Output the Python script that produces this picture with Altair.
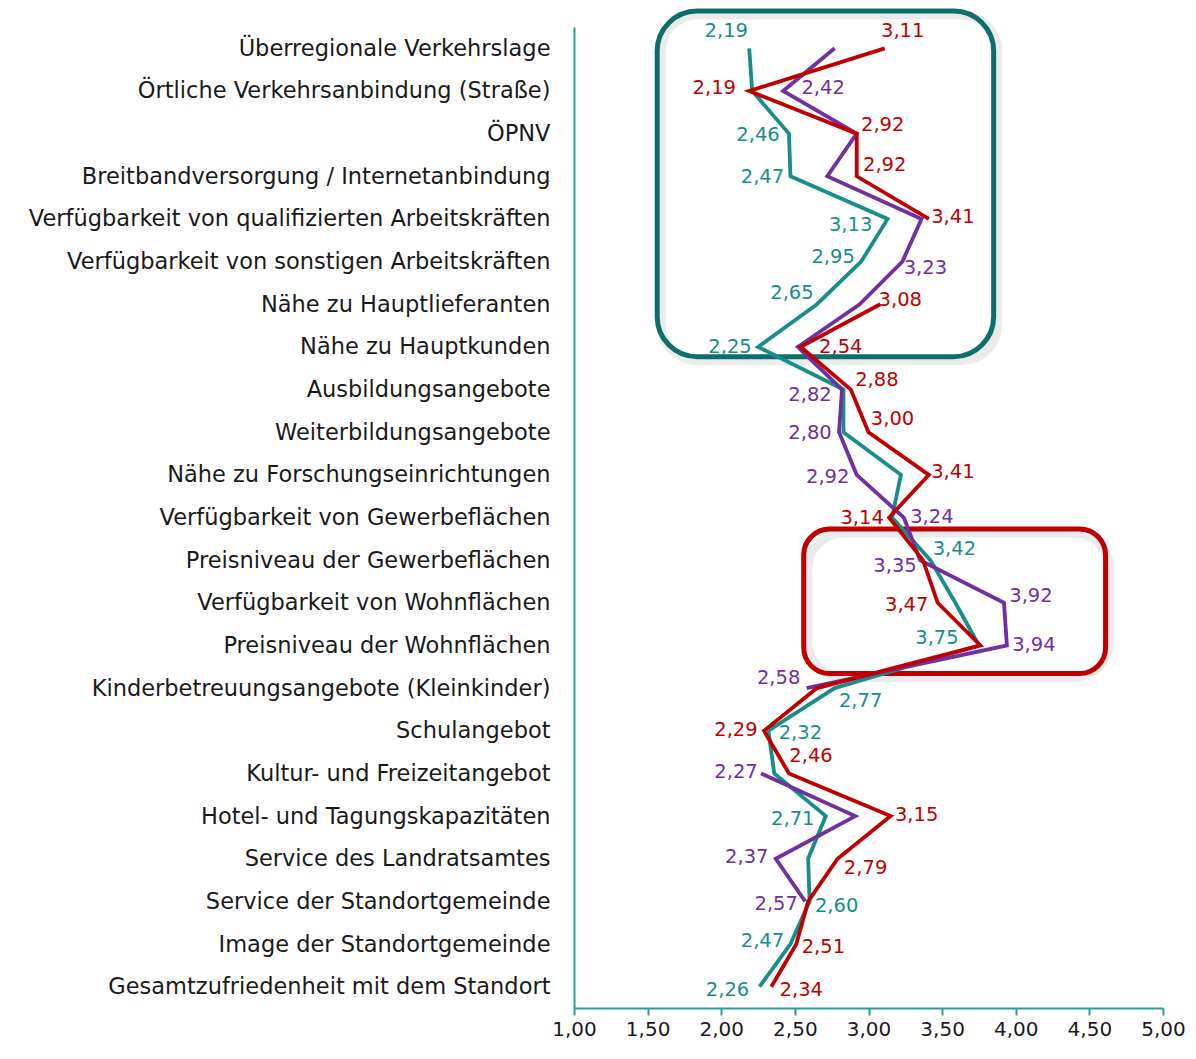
import json
import altair as alt
import pandas as pd

FONT = "DejaVu Sans"

categories = [
    "Überregionale Verkehrslage",
    "Örtliche Verkehrsanbindung (Straße)",
    "ÖPNV",
    "Breitbandversorgung / Internetanbindung",
    "Verfügbarkeit von qualifizierten Arbeitskräften",
    "Verfügbarkeit von sonstigen Arbeitskräften",
    "Nähe zu Hauptlieferanten",
    "Nähe zu Hauptkunden",
    "Ausbildungsangebote",
    "Weiterbildungsangebote",
    "Nähe zu Forschungseinrichtungen",
    "Verfügbarkeit von Gewerbeflächen",
    "Preisniveau der Gewerbeflächen",
    "Verfügbarkeit von Wohnflächen",
    "Preisniveau der Wohnflächen",
    "Kinderbetreuungsangebote (Kleinkinder)",
    "Schulangebot",
    "Kultur- und Freizeitangebot",
    "Hotel- und Tagungskapazitäten",
    "Service des Landratsamtes",
    "Service der Standortgemeinde",
    "Image der Standortgemeinde",
    "Gesamtzufriedenheit mit dem Standort",
]

teal_values = [2.19, 2.21, 2.46, 2.47, 3.13, 2.95, 2.65, 2.25, 2.83, 2.83, 3.22, 3.16,
               3.42, 3.59, 3.75, 2.77, 2.32, 2.36, 2.71, 2.59, 2.60, 2.47, 2.26]
red_values = [3.11, 2.19, 2.92, 2.92, 3.41, None, 3.08, 2.54, 2.88, 3.00, 3.41, 3.14,
              3.37, 3.47, 3.76, 2.65, 2.29, 2.46, 3.15, 2.79, 2.59, 2.51, 2.34]
purple_values = [2.77, 2.42, 2.92, 2.72, 3.36, 3.23, 2.94, 2.52, 2.82, 2.80, 2.92, 3.24,
                 3.35, 3.92, 3.94, 2.58, None, 2.27, 2.91, 2.37, 2.57, None, None]

x_ticks = [1.0, 1.5, 2.0, 2.5, 3.0, 3.5, 4.0, 4.5, 5.0]

series_names = ["teal", "purple", "red"]
series_values = {"teal": teal_values, "purple": purple_values, "red": red_values}
series_colors = ["#178E89", "#7030A0", "#C00000"]

# which points carry a value label, and where it sits (pixel offset of label centre)
label_offsets = {
    "teal": {0: (-23, -17), 2: (-31, 1), 3: (-28, 1), 4: (-37, 6), 5: (-28, -5),
             6: (-25, -11), 7: (-28, 0), 12: (24, -11), 14: (-42, -7), 15: (26, 13),
             16: (32, 2), 18: (-33, 3), 20: (27, 5), 21: (-28, -3), 22: (-32, 3)},
    "red": {0: (18, -17), 1: (-35, -3), 2: (26, -9), 3: (28, -11), 4: (24, -2),
            6: (20, -4), 7: (40, 0), 8: (26, -10), 9: (24, -13), 10: (24, -3),
            11: (-27, 0), 13: (-31, 2), 16: (-28, -1), 17: (22, -17), 18: (26, -1),
            19: (28, 9), 21: (27, 3), 22: (30, 3)},
    "purple": {1: (40, -3), 5: (23, 6), 8: (-32, 5), 9: (-29, 1), 10: (-29, 2),
               11: (28, -1), 12: (-25, 6), 13: (27, -7), 14: (27, 0), 15: (-28, -10),
               17: (-25, -1), 19: (-29, -2), 20: (-29, 3)},
}

# annotation boxes, in axis units (x value, row index)
boxes = pd.DataFrame([
    {"box": "teal", "x1": 1.565, "x2": 3.85, "y1": -0.875, "y2": 7.23},
    {"box": "red", "x1": 2.56, "x2": 4.61, "y1": 11.27, "y2": 14.66},
])

W, H = 589, 981
X_DOM = [1.0, 5.0]
Y_DOM = [-0.5, 22.5]
px_x = W / (X_DOM[1] - X_DOM[0])
px_y = H / (Y_DOM[1] - Y_DOM[0])

line_rows = []
label_rows = []
for s in series_names:
    seg = 0
    for i, v in enumerate(series_values[s]):
        if v is None:
            seg += 1
            continue
        line_rows.append({"series": s, "row": i, "value": v, "seg": f"{s}-{seg}"})
        if i in label_offsets[s]:
            dx, dy = label_offsets[s][i]
            label_rows.append({
                "series": s, "row": i, "value": v,
                "lx": v + dx / px_x, "ly": i + dy / px_y,
                "label": f"{v:.2f}".replace(".", ","),
            })

lines_df = pd.DataFrame(line_rows)
labels_df = pd.DataFrame(label_rows)

x_scale = alt.Scale(domain=X_DOM, nice=False, zero=False)
y_scale = alt.Scale(domain=Y_DOM, reverse=True, nice=False, zero=False)
color_scale = alt.Scale(domain=series_names, range=series_colors)

cat_js = json.dumps(categories, ensure_ascii=False)

x_axis = alt.Axis(
    values=x_ticks, title=None, grid=False, labelFlush=False,
    labelExpr="replace(format(datum.value, '.2f'), '.', ',')",
    domainColor="#2A9D97", domainWidth=2, tickColor="#2A9D97", tickWidth=2,
    tickSize=7, labelFontSize=20, labelFont=FONT, labelColor="#1a1a1a",
    labelPadding=4,
)
y_axis = alt.Axis(
    values=list(range(len(categories))), title=None, grid=False, ticks=False,
    labelFlush=False, labelExpr=f"{cat_js}[datum.value]",
    domainColor="#2A9D97", domainWidth=2, labelFontSize=22.5, labelFont=FONT,
    labelColor="#1a1a1a", labelPadding=24, labelLimit=0,
)

base_x = alt.X("value:Q", scale=x_scale, axis=x_axis)
base_y = alt.Y("row:Q", scale=y_scale, axis=y_axis)

lines = alt.Chart(lines_df).mark_line(strokeWidth=3.8, strokeJoin="miter").encode(
    x=base_x,
    y=base_y,
    color=alt.Color("series:N", scale=color_scale, legend=None),
    detail="seg:N",
    order="row:Q",
)

labels = alt.Chart(labels_df).mark_text(
    font=FONT, fontSize=19.5, align="center", baseline="middle"
).encode(
    x=alt.X("lx:Q", scale=x_scale),
    y=alt.Y("ly:Q", scale=y_scale),
    text="label:N",
    color=alt.Color("series:N", scale=color_scale, legend=None),
)

box_shadow = alt.Chart(boxes).mark_rect(
    fill=None, stroke="#000000", strokeOpacity=0.08, strokeWidth=9,
    cornerRadius=36, xOffset=4, yOffset=4, x2Offset=4, y2Offset=4,
).encode(x=alt.X("x1:Q", scale=x_scale), x2="x2:Q",
         y=alt.Y("y1:Q", scale=y_scale), y2="y2:Q")

box_teal = alt.Chart(boxes).transform_filter("datum.box == 'teal'").mark_rect(
    fill=None, stroke="#0E6E6A", strokeWidth=5, cornerRadius=40,
).encode(x=alt.X("x1:Q", scale=x_scale), x2="x2:Q",
         y=alt.Y("y1:Q", scale=y_scale), y2="y2:Q")

box_red = alt.Chart(boxes).transform_filter("datum.box == 'red'").mark_rect(
    fill=None, stroke="#C00000", strokeWidth=5, cornerRadius=26,
).encode(x=alt.X("x1:Q", scale=x_scale), x2="x2:Q",
         y=alt.Y("y1:Q", scale=y_scale), y2="y2:Q")

chart = alt.layer(box_shadow, box_teal, box_red, lines, labels).properties(
    width=W, height=H,
    autosize=alt.AutoSizeParams(type="none"),
    padding={"left": 566, "top": 19, "right": 25, "bottom": 35},
    background="white",
).configure_view(stroke=None)

chart.save("out.html", embed_options={"renderer": "svg", "actions": False})
